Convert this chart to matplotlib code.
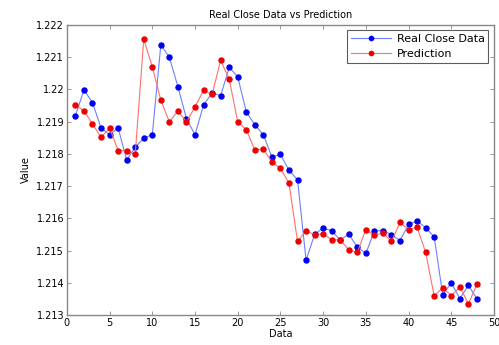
import numpy as np
import matplotlib
matplotlib.use("Agg")
import matplotlib.pyplot as plt

# valeurs (index 1..48)
idx = np.arange(1, 49)
real_close = [1.21918, 1.21998, 1.21959, 1.21880, 1.21859, 1.21880, 1.21781, 1.21820,
              1.21849, 1.21859, 1.22138, 1.22099, 1.22008, 1.21909, 1.21859, 1.21951,
              1.21989, 1.21980, 1.22068, 1.22039, 1.21930, 1.21890, 1.21859, 1.21790,
              1.21798, 1.21749, 1.21719, 1.21470, 1.21550, 1.21570, 1.21561, 1.21533,
              1.21551, 1.21510, 1.21491, 1.21561, 1.21562, 1.21549, 1.21531, 1.21581,
              1.21591, 1.21571, 1.21542, 1.21362, 1.21400, 1.21351, 1.21392, 1.21350]
prediction = [1.21952, 1.21933, 1.21893, 1.21851, 1.21880, 1.21810, 1.21810, 1.21798,
              1.22155, 1.22070, 1.21966, 1.21899, 1.21933, 1.21899, 1.21945, 1.21997,
              1.21984, 1.22090, 1.22032, 1.21899, 1.21875, 1.21812, 1.21815, 1.21774,
              1.21755, 1.21709, 1.21528, 1.21561, 1.21549, 1.21552, 1.21533, 1.21533,
              1.21502, 1.21494, 1.21565, 1.21547, 1.21555, 1.21528, 1.21587, 1.21565,
              1.21572, 1.21494, 1.21359, 1.21385, 1.21359, 1.21388, 1.21334, 1.21395]

fig = plt.figure(figsize=(4.99, 3.45), dpi=100)
ax = fig.add_axes([0.134, 0.087, 0.856, 0.841])

ax.plot(idx, real_close, color="#6f7fff", lw=0.8, marker="o", ms=3.6,
        mfc="#0000ee", mec="#0000ee", label="Real Close Data")
ax.plot(idx, prediction, color="#ff6f6f", lw=0.8, marker="o", ms=3.6,
        mfc="#ee0000", mec="#ee0000", label="Prediction")

ax.set_xlim(0, 50)
ax.set_ylim(1.213, 1.222)
ax.set_xticks(np.arange(0, 51, 5))
yt = np.arange(1.213, 1.2225, 0.001)
ax.set_yticks(yt)
ax.set_yticklabels([f"{v:.3f}".rstrip("0") for v in yt])

ax.tick_params(direction="in", top=True, right=True, labelsize=7,
               length=3, width=0.6, color="#888888", pad=2)
for s in ax.spines.values():
    s.set_color("#888888")
    s.set_linewidth(1.0)

ax.set_title("Real Close Data vs Prediction", fontsize=7, pad=5)
ax.set_xlabel("Data", fontsize=7, labelpad=1)
ax.set_ylabel("Value", fontsize=7, labelpad=4)

leg = ax.legend(loc="upper right", fontsize=8, frameon=True, fancybox=False,
                handlelength=3.6, handletextpad=0.5, borderpad=0.35,
                labelspacing=0.4, borderaxespad=0.5, markerscale=0.85)
leg.get_frame().set_edgecolor("#333333")
leg.get_frame().set_linewidth(0.8)

fig.savefig("out.png", dpi=100)
